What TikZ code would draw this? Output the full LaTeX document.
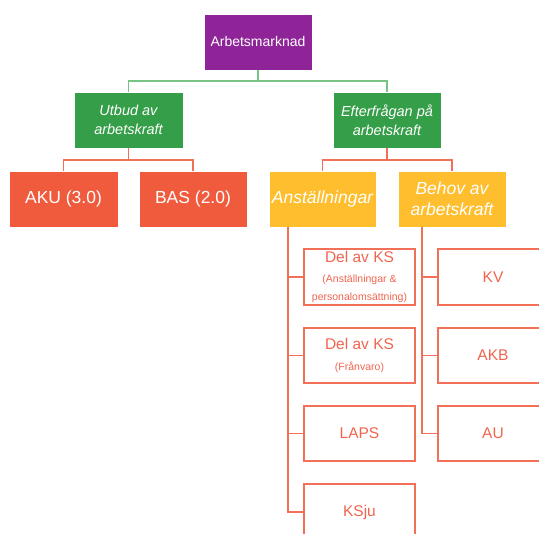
\documentclass[tikz,border=0pt]{standalone}
\usepackage{fontspec}
\setmainfont{Liberation Sans}
\definecolor{cpurple}{RGB}{142,36,152}
\definecolor{cgreen}{RGB}{53,158,72}
\definecolor{cgreenline}{RGB}{120,196,135}
\definecolor{cred}{RGB}{240,91,61}
\definecolor{cyellow}{RGB}{254,190,46}
\definecolor{csalmon}{RGB}{242,112,88}
\definecolor{ctext}{RGB}{240,100,78}
\begin{document}
\begin{tikzpicture}[x=1pt,y=-1pt,
  filled/.style={rectangle,inner sep=0pt,align=center,text=white,draw=white,line width=0.6pt},
  outl/.style={rectangle,inner sep=0pt,align=center,draw=csalmon,line width=1.3pt,text=ctext,minimum width=111pt,minimum height=56pt,font=\fontsize{15.5}{18}\selectfont},
  gline/.style={draw=cgreenline,line width=1.2pt},
  rline/.style={draw=csalmon,line width=1.3pt}]
\useasboundingbox (0,0) rectangle (539,534);
\begin{scope}
\clip (0,0) rectangle (539,534);
% top
\node[filled,fill=cpurple,minimum width=108pt,minimum height=56pt,font=\fontsize{14}{16}\selectfont] (top) at (258,42) {Arbetsmarknad};
% level 2
\node[filled,fill=cgreen,minimum width=109pt,minimum height=56pt,font=\fontsize{14.5}{19}\selectfont\itshape] (utbud) at (128.5,120) {Utbud av\\arbetskraft};
\node[filled,fill=cgreen,minimum width=108pt,minimum height=56pt,font=\fontsize{14.5}{19}\selectfont\itshape] (efter) at (387,120) {Efterfrågan på\\arbetskraft};
% level 3
\node[filled,fill=cred,minimum width=109pt,minimum height=56pt,font=\fontsize{17.5}{21}\selectfont] (aku) at (63.5,199) {AKU (3.0)};
\node[filled,fill=cred,minimum width=108pt,minimum height=56pt,font=\fontsize{17.5}{21}\selectfont] (bas) at (193,199) {BAS (2.0)};
\node[filled,fill=cyellow,minimum width=107pt,minimum height=56pt,font=\fontsize{17.5}{21}\selectfont\itshape] (anst) at (322.5,199) {Anställningar};
\node[filled,fill=cyellow,minimum width=108pt,minimum height=56pt,font=\fontsize{17.5}{21}\selectfont\itshape] (behov) at (452,199) {Behov av\\arbetskraft};
% left column
\node[outl] (ks1) at (359.5,277) {Del av KS\\[2pt]{\fontsize{10.5}{13}\selectfont (Anställningar \&}\\{\fontsize{10.5}{13}\selectfont personalomsättning)}};
\node[outl,minimum height=55pt] (ks2) at (359.5,355.5) {Del av KS\\[3pt]{\fontsize{10.5}{12}\selectfont (Frånvaro)}};
\node[outl,minimum height=55pt] (laps) at (359.5,433.5) {LAPS};
\node[outl] (ksju) at (359.5,512) {KSju};
% right column
\node[outl,minimum width=110pt] (kv) at (493,277) {KV};
\node[outl,minimum width=110pt,minimum height=55pt] (akb) at (493,355.5) {AKB};
\node[outl,minimum width=110pt,minimum height=55pt] (au) at (493,433.5) {AU};
% connectors
\coordinate (b1) at (258,81);
\draw[gline] (top.south) -- (b1) -| (utbud.north);
\draw[gline] (b1) -| (efter.north);
\coordinate (b2) at (128.5,160);
\draw[rline] (utbud.south) -- (b2) -| (aku.north);
\draw[rline] (b2) -| (bas.north);
\coordinate (b3) at (387,160);
\draw[rline] (efter.south) -- (b3) -| (anst.north);
\draw[rline] (b3) -| (behov.north);
\coordinate (s1) at (288,227);
\draw[rline] (s1) |- (ksju.west);
\draw[rline] (ks1.west) -- (ks1.west -| s1);
\draw[rline] (ks2.west) -- (ks2.west -| s1);
\draw[rline] (laps.west) -- (laps.west -| s1);
\coordinate (s2) at (422,227);
\draw[rline] (s2) |- (au.west);
\draw[rline] (kv.west) -- (kv.west -| s2);
\draw[rline] (akb.west) -- (akb.west -| s2);
\end{scope}
\end{tikzpicture}
\end{document}
